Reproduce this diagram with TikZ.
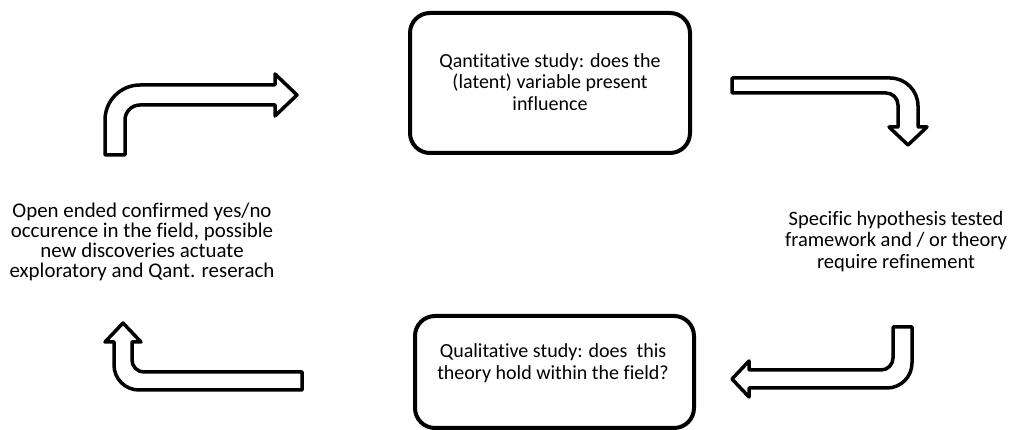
\documentclass[tikz,border=0pt]{standalone}
\usepackage{fontspec}
\setmainfont{Carlito}[Ligatures=NoCommon]
\begin{document}
\begin{tikzpicture}[x=1pt,y=1pt,
  box/.style={draw=black, line width=4pt, rounded corners=20pt, fill=white},
  txt/.style={align=center, inner sep=0pt},
  bent/.style={draw=black, line width=3.5pt, line join=round, fill=white}]
\useasboundingbox (0,0) rectangle (1011,430);
% boxes
\node[box, minimum width=280pt, minimum height=140pt] (quant) at (550,347) {};
\node[txt, font=\fontsize{20}{21.5}\selectfont] (quanttext) at (550,348) {Qantitative study: does the\\(latent) variable present\\influence};
\node[box, minimum width=279pt, minimum height=112pt] (qual) at (554.5,58) {};
\node[txt, font=\fontsize{20}{21.5}\selectfont] (qualtext) at (553,67) {Qualitative study: does\ \ this\\theory hold within the field?};
% side texts
\node[txt, font=\fontsize{20.9}{20}\selectfont] (left) at (142,188) {Open ended confirmed yes/no\\occurence in the field, possible\\new discoveries actuate\\exploratory and Qant. reserach};
\node[txt, font=\fontsize{20.5}{21.5}\selectfont] (right) at (896,188.5) {Specific hypothesis tested\\framework and / or theory\\require refinement};
% top-left bent arrow
\draw[bent] (105,275) -- (105,310) arc[start angle=180, end angle=90, radius=35]
  -- (275,345) -- (275,356) -- (297,335) -- (275,314) -- (275,325) -- (140,325)
  arc[start angle=90, end angle=180, radius=15] -- (125,275) -- cycle;
% top-right bent arrow
\draw[bent] (732,352) -- (890,352) arc[start angle=90, end angle=0, radius=28]
  -- (918,303) -- (927,303) -- (908,285) -- (889,303) -- (898,303) -- (898,325)
  arc[start angle=0, end angle=90, radius=12] -- (732,337) -- cycle;
% bottom-right bent arrow
\draw[bent] (893,103) -- (912,103) -- (912,67) arc[start angle=0, end angle=-90, radius=25]
  -- (749,42) -- (749,33) -- (732,51) -- (749,69) -- (749,60) -- (881,60)
  arc[start angle=-90, end angle=0, radius=12] -- cycle;
% bottom-left bent arrow
\draw[bent] (302,40) -- (139,40) arc[start angle=-90, end angle=-180, radius=25]
  -- (114,88) -- (105,88) -- (123,107) -- (141,88) -- (132,88) -- (132,70)
  arc[start angle=180, end angle=270, radius=12] -- (302,58) -- cycle;
\end{tikzpicture}
\end{document}
